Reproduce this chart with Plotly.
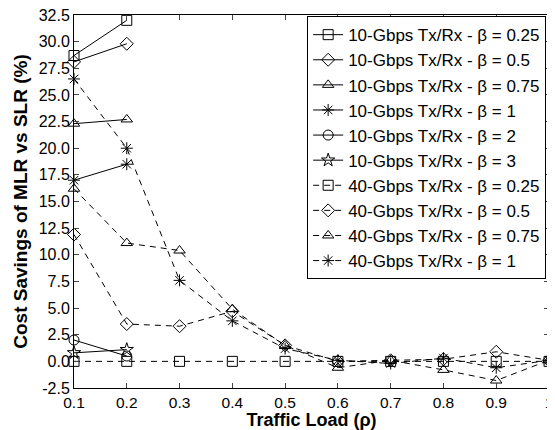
import plotly.graph_objects as go

# traffic load values
load_10g = [0.1, 0.2]
load_40g = [0.1, 0.2, 0.3, 0.4, 0.5, 0.6, 0.7, 0.8, 0.9, 1.0]

# 10-Gbps Tx/Rx savings (%)
s10_b025 = [28.7, 32.0]
s10_b05 = [28.1, 29.8]
s10_b075 = [22.3, 22.7]
s10_b1 = [17.0, 18.5]
s10_b2 = [2.0, 0.5]
s10_b3 = [0.8, 1.1]

# 40-Gbps Tx/Rx savings (%)
s40_b025 = [0.0, 0.0, 0.0, 0.0, 0.0, 0.0, 0.0, 0.0, 0.0, 0.0]
s40_b05 = [11.9, 3.5, 3.3, 4.7, 1.5, 0.0, 0.1, 0.2, 0.9, 0.1]
s40_b075 = [16.2, 11.1, 10.4, 4.9, 1.5, -0.6, 0.1, -0.8, -1.8, 0.1]
s40_b1 = [26.5, 20.0, 7.6, 3.8, 1.2, 0.1, -0.2, 0.3, -0.6, 0.1]

series = [
    ("10-Gbps Tx/Rx - β = 0.25", load_10g, s10_b025, "square-open", "solid"),
    ("10-Gbps Tx/Rx - β = 0.5", load_10g, s10_b05, "diamond-open", "solid"),
    ("10-Gbps Tx/Rx - β = 0.75", load_10g, s10_b075, "triangle-up-open", "solid"),
    ("10-Gbps Tx/Rx - β = 1", load_10g, s10_b1, "asterisk-open", "solid"),
    ("10-Gbps Tx/Rx - β = 2", load_10g, s10_b2, "circle-open", "solid"),
    ("10-Gbps Tx/Rx - β = 3", load_10g, s10_b3, "star-open", "solid"),
    ("40-Gbps Tx/Rx - β = 0.25", load_40g, s40_b025, "square-open", "6px,5px"),
    ("40-Gbps Tx/Rx - β = 0.5", load_40g, s40_b05, "diamond-open", "6px,5px"),
    ("40-Gbps Tx/Rx - β = 0.75", load_40g, s40_b075, "triangle-up-open", "6px,5px"),
    ("40-Gbps Tx/Rx - β = 1", load_40g, s40_b1, "asterisk-open", "6px,5px"),
]

fig = go.Figure()
for i, (name, xs, ys, sym, dash) in enumerate(series):
    fig.add_trace(go.Scatter(
        x=xs, y=ys, name=name, mode="lines+markers", legendgroup="g%d" % i,
        cliponaxis=False,
        line=dict(color="black", width=1, dash=dash),
        marker=dict(symbol=sym, size=10, color="black", line=dict(width=1, color="black")),
    ))

ytick_vals = [-2.5 + 2.5 * i for i in range(15)]
ytick_text = ["%.1f" % v for v in ytick_vals]
xtick_vals = [0.1, 0.2, 0.3, 0.4, 0.5, 0.6, 0.7, 0.8, 0.9, 1.0]
xtick_text = ["0.1", "0.2", "0.3", "0.4", "0.5", "0.6", "0.7", "0.8", "0.9", "1"]

# page body has an 8px margin, so the figure is sized to fit inside the window
fig.update_layout(
    width=547, height=422,
    margin=dict(l=66, r=6, t=7, b=42),
    paper_bgcolor="white", plot_bgcolor="white",
    font=dict(family="Liberation Sans, Arial, sans-serif", size=16, color="black"),
    showlegend=True,
    legend=dict(x=0.994, y=0.997, xanchor="right", yanchor="top",
                bordercolor="black", borderwidth=1, bgcolor="white",
                font=dict(size=17), itemwidth=30, tracegroupgap=0),
    xaxis=dict(range=[0.1, 1.0], tickvals=xtick_vals, ticktext=xtick_text,
               ticks="inside", ticklen=5, showline=True, linecolor="black", linewidth=1,
               mirror="ticks", showgrid=False, zeroline=False, automargin=False,
               ticklabeloverflow="allow", tickfont=dict(size=15.5),
               title=dict(text="<b>Traffic Load (ρ)</b>", font=dict(size=18), standoff=3)),
    yaxis=dict(range=[-2.5, 32.5], tickvals=ytick_vals, ticktext=ytick_text,
               ticks="inside", ticklen=5, showline=True, linecolor="black", linewidth=1,
               mirror="ticks", showgrid=False, zeroline=False, automargin=False,
               ticklabeloverflow="allow", tickfont=dict(size=16),
               title=dict(text="<b>Cost Savings of MLR vs SLR (%)</b>", font=dict(size=19), standoff=6)),
)

fig.write_html("out.html")
